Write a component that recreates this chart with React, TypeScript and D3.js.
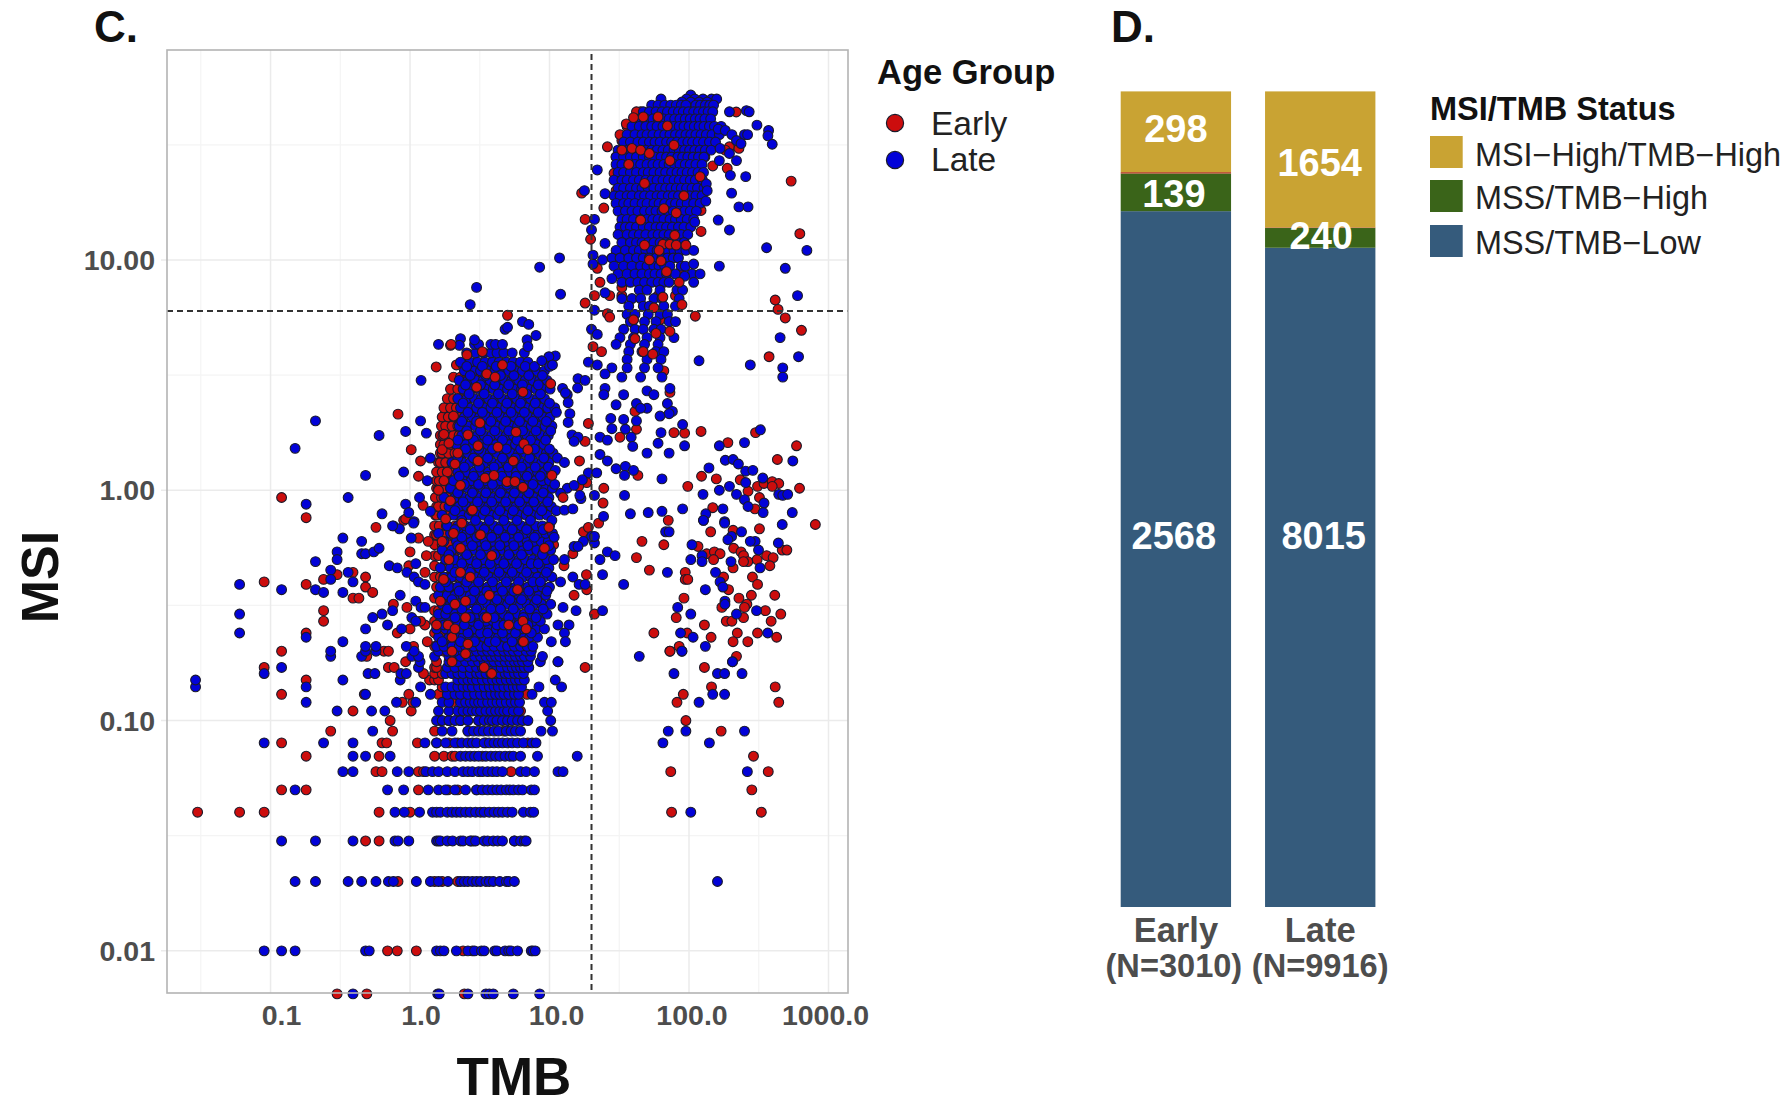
import React from "react";
import * as d3 from "d3";

// ---------- Panel C data: [msi, ...tmb values] rows and [tmb, msi] pairs ----------
const xTicks = [0.1, 1, 10, 100, 1000];
const xTickLabels = ["0.1", "1.0", "10.0", "100.0", "1000.0"];
const yTicks = [10, 1, 0.1, 0.01];
const yTickLabels = ["10.00", "1.00", "0.10", "0.01"];
const xCut = 20;
const yCut = 6;

const earlyLowRows: number[][] = [
  [0.0065, 0.3, 0.49, 2.45],
  [0.01, 0.69, 0.81, 1.11, 2.4, 2.8],
  [0.02, 0.82, 1.5, 1.7, 2.2],
  [0.03, 0.48, 0.6, 2.85, 5.6, 2.75],
  [0.04, 0.03, 0.06, 0.09, 0.6, 1.0, 75, 330],
  [0.05, 0.12, 0.18, 1.15, 1.87, 2.2, 3.0, 282],
  [0.06, 0.57, 0.63, 1.15, 1.25, 5.3, 74, 370],
  [0.07, 0.18, 0.6, 1.5, 1.75, 2.0, 2.1, 3.3, 290],
  [0.08, 0.12, 0.63, 0.68, 1.13, 1.55, 1.9, 2.2, 3.5, 7.0],
  [0.09, 0.27, 0.75, 1.5, 2.6, 4.7, 170],
  [0.1, 0.72, 95, 1.65, 1.9, 2.3, 3.1],
  [0.11, 0.39, 1.02, 6.2],
  [0.12, 0.88, 1.05, 2.0, 3.0, 82, 440],
  [0.13, 0.12, 0.47, 0.98, 1.6, 6.9, 91],
  [0.14, 1.7, 145, 415],
  [0.15, 0.18, 1.38, 1.5, 1.6],
  [0.16, 1.25, 1.5, 1.7, 3.7],
  [0.17, 0.09, 0.7, 0.77, 1.5, 1.55, 2.0, 2.35, 3.3, 3.6, 18, 129],
  [0.18, 0.93, 1.55, 2.1, 2.5],
  [0.19, 0.49, 219],
  [0.2, 0.12, 0.65, 0.7, 2.1, 1.75, 73],
];

const lateLowRows: number[][] = [
  [0.0065, 0.39, 1.58, 1.62, 2.6, 3.5, 3.7, 3.95, 5.5, 8.5],
  [0.01, 0.09, 0.12, 0.15, 0.48, 0.51, 1.55, 1.65, 1.75, 2.15, 2.6, 2.9, 3.25, 3.4, 4.05, 4.2, 4.8, 5.1, 5.3, 5.9, 7.4, 7.6, 7.9],
  [0.02, 0.15, 0.21, 0.36, 0.45, 0.57, 0.7, 0.76, 1.11, 1.4, 1.6, 1.87, 2.3, 2.45, 2.6, 2.8, 3.0, 3.2, 3.5, 3.7, 3.95, 4.4, 4.9, 5.1, 5.6, 160],
  [0.03, 0.12, 0.21, 0.39, 0.78, 0.82, 0.98, 1.55, 1.6, 1.65, 1.85, 2.02, 2.3, 2.4, 2.7, 2.95, 3.4, 3.6, 3.95, 4.25, 4.6, 5.6, 6.2, 6.6, 6.8],
  [0.04, 0.78, 0.91, 1.17, 1.45, 1.55, 1.65, 1.85, 2.0, 2.15, 2.3, 2.5, 2.7, 2.95, 3.2, 3.4, 3.7, 4.0, 4.3, 4.6, 5.0, 5.4, 6.5, 7.3, 7.7, 103],
  [0.05, 0.15, 0.69, 0.9, 1.35, 1.6, 1.8, 2.1, 2.5, 3.0, 3.3, 3.6, 3.9, 4.2, 4.5, 4.9, 5.2, 5.5, 6.0, 6.4, 7.4, 7.8],
  [0.06, 0.33, 0.39, 0.81, 0.98, 1.3, 1.45, 1.6, 1.85, 2.1, 2.4, 2.6, 2.8, 3.1, 3.3, 3.6, 3.9, 4.2, 4.6, 6.2, 6.8, 7.8, 11.5, 12.5, 262],
  [0.07, 0.39, 0.48, 0.72, 2.3, 2.5, 2.7, 2.9, 3.1, 3.5, 3.8, 4.1, 4.4, 4.8, 5.2, 5.5, 6.2, 8.2, 15.8],
  [0.08, 0.09, 0.24, 0.39, 1.28, 1.55, 1.8, 2.1, 2.35, 2.6, 2.8, 3.0, 3.4, 3.7, 4.0, 4.3, 4.6, 5.0, 5.4, 5.9, 6.5, 7.5, 8.0, 65, 140],
  [0.09, 0.54, 1.7, 2.0, 2.6, 2.85, 3.1, 3.35, 3.65, 4.0, 4.3, 4.9, 5.3, 5.7, 6.2, 8.7, 10.5, 71, 95, 250],
  [0.1, 1.55, 1.7, 1.9, 2.1, 2.3, 2.6, 3.1, 3.4, 3.7, 3.9, 4.2, 4.6, 5.0, 5.4, 5.9, 6.4, 7.0, 10.2],
  [0.11, 0.3, 0.53, 0.66, 1.6, 1.9, 2.2, 2.4, 2.6, 2.8, 3.0, 3.2, 3.5, 3.8, 4.1, 4.4, 4.7, 5.0, 5.5, 6.0, 9.7],
  [0.12, 0.18, 0.8, 1.1, 1.7, 1.9, 2.3, 2.5, 2.7, 2.9, 3.1, 3.3, 3.6, 3.9, 4.2, 4.5, 4.9, 5.3, 5.7, 6.1, 9.2, 10.3, 118],
  [0.13, 0.48, 1.4, 1.85, 2.1, 2.3, 2.6, 2.9, 3.2, 3.5, 3.8, 4.1, 4.4, 4.7, 5.1, 5.6, 6.0, 7.5, 148, 180],
  [0.14, 0.029, 0.18, 1.19, 1.8, 2.0, 2.2, 2.4, 2.6, 2.8, 3.1, 3.4, 3.7, 4.0, 4.3, 4.7, 5.1, 5.5, 5.9, 6.3, 8.4, 12.2],
  [0.15, 0.029, 0.33, 0.85, 2.2, 2.4, 2.6, 2.8, 3.0, 3.3, 3.6, 3.9, 4.2, 4.5, 4.9, 5.3, 5.7, 6.1, 6.6, 11],
  [0.16, 0.09, 0.5, 0.56, 0.86, 0.94, 1.8, 2.0, 2.2, 2.4, 2.7, 3.0, 3.2, 3.5, 3.8, 4.1, 4.4, 4.8, 5.1, 5.6, 6.0, 6.5, 78, 160, 180, 240],
  [0.17, 0.12, 1.15, 1.85, 2.1, 2.4, 2.7, 3.0, 3.3, 3.6, 3.9, 4.2, 4.5, 5, 5.4, 5.8, 6.2, 6.6, 7.1],
  [0.18, 1.18, 1.9, 2.2, 2.5, 2.8, 3.1, 3.4, 3.7, 4.0, 4.4, 4.8, 5.2, 5.6, 6.0, 6.4, 7.0, 8.6, 11.5, 205],
  [0.19, 0.27, 0.45, 1.03, 1.15, 1.5, 1.9, 2.1, 2.3, 2.6, 2.9, 3.2, 3.5, 3.8, 4.1, 4.4, 4.8, 5.2, 5.7, 6.2, 6.6, 7.3, 8.9, 44],
  [0.2, 0.27, 0.48, 0.57, 1.07, 1.6, 1.85, 2.1, 2.4, 2.7, 3.0, 3.3, 3.6, 3.9, 4.3, 4.7, 5.1, 5.5, 6.0, 6.8, 7.4, 89],
];

const lateMainRows: number[][] = [
  [0.21, 1.55, 1.75, 2.0, 2.25, 2.5, 2.85, 3.2, 3.55, 4.0, 4.5, 5.0, 5.6, 6.2, 6.9, 7.6],
  [0.23, 1.6, 1.9, 2.15, 2.4, 2.7, 3.05, 3.4, 3.85, 4.3, 4.8, 5.35, 5.9, 6.6, 7.2, 8.2],
  [0.25, 1.55, 1.8, 2.05, 2.35, 2.6, 2.95, 3.3, 3.7, 4.15, 4.6, 5.2, 5.8, 6.4, 7.1, 8.0, 9.2],
  [0.27, 1.65, 1.95, 2.2, 2.5, 2.8, 3.15, 3.5, 3.95, 4.4, 4.9, 5.5, 6.1, 6.8, 7.6, 8.6],
  [0.29, 1.6, 1.8, 2.1, 2.35, 2.65, 3.0, 3.35, 3.75, 4.2, 4.7, 5.3, 5.9, 6.6, 7.3, 8.2, 9.6],
  [0.32, 1.7, 1.95, 2.25, 2.55, 2.9, 3.25, 3.6, 4.05, 4.5, 5.0, 5.6, 6.2, 6.9, 7.8, 8.8, 10.2],
  [0.35, 1.6, 1.85, 2.1, 2.4, 2.7, 3.05, 3.4, 3.85, 4.3, 4.85, 5.4, 6.05, 6.7, 7.5, 8.4, 9.4],
  [0.38, 1.65, 1.9, 2.2, 2.5, 2.85, 3.2, 3.6, 4.0, 4.5, 5.05, 5.7, 6.3, 7.0, 7.9, 8.9, 10.0],
  [0.42, 1.75, 2.0, 2.3, 2.6, 2.95, 3.3, 3.7, 4.2, 4.7, 5.2, 5.85, 6.5, 7.3, 8.2, 9.2, 10.4],
  [0.46, 1.65, 1.95, 2.2, 2.5, 2.8, 3.15, 3.5, 3.95, 4.45, 5.0, 5.6, 6.2, 7.0, 7.8, 8.8, 9.9],
  [0.5, 1.8, 2.1, 2.4, 2.7, 3.05, 3.4, 3.85, 4.3, 4.85, 5.4, 6.05, 6.7, 7.6, 8.5, 9.5, 10.7],
  [0.55, 1.7, 2.0, 2.3, 2.6, 2.9, 3.25, 3.65, 4.1, 4.6, 5.15, 5.8, 6.5, 7.2, 8.1, 9.1, 10.2],
  [0.6, 1.75, 2.15, 2.45, 2.75, 3.1, 3.45, 3.9, 4.4, 4.9, 5.5, 6.2, 6.9, 7.7, 8.7, 9.8],
  [0.65, 1.6, 1.95, 2.25, 2.55, 2.9, 3.3, 3.7, 4.15, 4.65, 5.25, 5.9, 6.6, 7.4, 8.3, 9.4, 10.5],
  [0.7, 1.85, 2.2, 2.5, 2.8, 3.15, 3.55, 4.0, 4.5, 5.0, 5.6, 6.3, 7.1, 8.0, 8.9, 10.0],
  [0.78, 1.7, 2.05, 2.35, 2.65, 3.0, 3.35, 3.8, 4.25, 4.8, 5.4, 6.05, 6.8, 7.6, 8.5, 9.6],
  [0.85, 1.9, 2.25, 2.55, 2.9, 3.25, 3.65, 4.1, 4.6, 5.15, 5.75, 6.5, 7.3, 8.1, 9.2, 10.3],
  [0.93, 1.75, 2.1, 2.4, 2.7, 3.05, 3.45, 3.9, 4.35, 4.9, 5.5, 6.15, 6.9, 7.8, 8.8, 9.9],
  [1.02, 1.95, 2.3, 2.6, 2.95, 3.3, 3.7, 4.2, 4.7, 5.25, 5.9, 6.6, 7.4, 8.3, 9.4, 10.5],
  [1.1, 2.05, 2.4, 2.75, 3.1, 3.5, 3.95, 4.45, 5.0, 5.6, 6.3, 7.1, 7.9, 8.9, 10.0],
  [1.2, 2.2, 2.55, 2.9, 3.25, 3.65, 4.1, 4.6, 5.15, 5.8, 6.5, 7.3, 8.2, 9.2, 10.3],
  [1.32, 2.0, 2.4, 2.7, 3.05, 3.45, 3.9, 4.4, 4.9, 5.5, 6.2, 7.0, 7.8, 8.8, 9.9],
  [1.45, 2.3, 2.6, 2.95, 3.35, 3.75, 4.2, 4.75, 5.3, 6.0, 6.7, 7.5, 8.4, 9.5, 10.6],
  [1.58, 2.15, 2.5, 2.85, 3.2, 3.6, 4.05, 4.55, 5.1, 5.7, 6.4, 7.2, 8.1, 9.1],
  [1.73, 2.35, 2.7, 3.05, 3.4, 3.85, 4.35, 4.9, 5.5, 6.15, 6.9, 7.7, 8.7, 9.8],
  [1.9, 2.25, 2.6, 2.95, 3.3, 3.7, 4.15, 4.7, 5.25, 5.9, 6.6, 7.4, 8.3, 9.3, 10.4],
  [2.08, 2.45, 2.8, 3.15, 3.55, 4.0, 4.5, 5.05, 5.65, 6.35, 7.1, 8.0, 9.0, 10.1],
  [2.28, 2.3, 2.65, 3.0, 3.4, 3.8, 4.3, 4.85, 5.4, 6.1, 6.85, 7.7, 8.6, 9.7, 10.9],
  [2.5, 2.2, 2.55, 2.9, 3.25, 3.65, 4.1, 4.6, 5.2, 5.8, 6.5, 7.3, 8.2, 9.2],
  [2.75, 2.4, 2.75, 3.1, 3.5, 3.95, 4.45, 5.0, 5.6, 6.3, 7.1, 8.0, 9.0, 10.1],
  [3.0, 2.25, 2.6, 2.95, 3.35, 3.75, 4.25, 4.75, 5.35, 6.0, 6.7, 7.6, 8.5, 9.6],
  [3.3, 2.45, 2.85, 3.2, 3.6, 4.05, 4.55, 5.1, 5.7, 6.4, 7.3, 8.1, 9.2],
  [3.6, 2.3, 2.7, 3.05, 3.45, 3.9, 4.35, 4.9, 5.5, 6.2, 7.0],
  [3.95, 2.55, 2.95, 3.35, 3.8, 4.2, 4.7, 5.4, 6.6],
  [4.3, 2.9, 3.1, 3.8, 4.1, 4.6],
];

const lateMainFillRows: number[][] = [
  [0.22, 1.7, 2.3, 2.9, 3.7, 4.1, 5.4, 6.4],
  [0.24, 2.0, 2.6, 3.2, 3.6, 4.6, 5.7, 7.4],
  [0.26, 1.75, 2.45, 3.1, 4.2, 4.7, 6.0, 7.0],
  [0.28, 2.1, 2.7, 3.4, 4.0, 5.1, 6.5, 8.0],
  [0.305, 1.85, 2.35, 3.0, 3.8, 4.45, 5.5, 7.2, 9.0],
  [0.335, 2.0, 2.75, 3.3, 4.2, 5.2, 6.3, 8.1],
  [0.365, 2.25, 2.9, 3.55, 4.6, 5.55, 7.1, 9.6],
  [0.4, 1.8, 2.55, 3.1, 3.9, 4.9, 6.0, 7.6, 8.6],
  [0.44, 2.1, 2.7, 3.4, 4.35, 5.4, 6.85, 9.5],
  [0.48, 2.35, 3.0, 3.75, 4.7, 5.8, 7.4, 8.3],
  [0.525, 1.9, 2.55, 3.2, 4.05, 5.1, 6.3, 8.9],
  [0.575, 2.2, 2.8, 3.5, 4.4, 5.55, 7.0, 9.9],
  [0.625, 2.35, 3.0, 3.85, 4.8, 6.0, 7.8, 10.8],
  [0.675, 2.1, 2.7, 3.4, 4.3, 5.4, 6.85, 9.0],
  [0.74, 2.35, 2.95, 3.7, 4.7, 5.85, 7.3, 10.4],
  [0.815, 2.1, 2.75, 3.45, 4.4, 5.5, 7.0, 8.8, 11.2],
  [0.89, 2.4, 3.05, 3.85, 4.85, 6.1, 7.7, 9.7],
  [0.975, 2.2, 2.8, 3.5, 4.45, 5.6, 7.1, 9.0],
  [1.06, 2.45, 3.1, 3.9, 4.95, 6.2, 7.6, 10.9],
  [1.15, 2.25, 2.85, 3.6, 4.55, 5.75, 6.9, 8.6],
  [1.26, 2.45, 3.15, 4.0, 5.05, 6.3, 7.9, 9.8],
  [1.38, 2.2, 2.85, 3.6, 4.6, 5.7, 7.2, 9.1, 11.4],
  [1.51, 2.5, 3.1, 3.9, 4.9, 6.2, 7.8, 10.0],
  [1.65, 2.2, 2.85, 3.6, 4.6, 5.85, 7.3, 9.4],
  [1.81, 2.55, 3.2, 4.05, 5.1, 6.4, 8.0, 10.2],
  [1.99, 2.35, 3.0, 3.8, 4.85, 6.1, 7.6, 9.5],
  [2.18, 2.6, 3.3, 4.2, 5.3, 6.6, 8.3, 11.2],
  [2.39, 2.4, 3.1, 3.9, 4.95, 6.2, 7.9, 10.0],
  [2.62, 2.65, 3.4, 4.3, 5.4, 6.85, 8.6],
  [2.87, 2.5, 3.2, 4.05, 5.1, 6.4, 8.3],
  [3.15, 2.7, 3.5, 4.45, 5.55, 7.1, 8.9],
  [3.45, 2.55, 3.3, 4.15, 5.3, 6.7, 7.8, 10],
];

const lateHighRows: number[][] = [
  [52, 103],
  [50, 63, 96, 110, 126, 145, 158],
  [48.5, 89, 103, 118, 135],
  [47, 54, 60, 67, 74, 81, 88, 95, 112, 121, 131, 141, 150],
  [44, 47, 52, 58, 64, 70, 77, 84, 91, 99, 108, 117, 127, 137, 148],
  [41, 44, 49, 55, 60, 66, 72, 79, 86, 94, 102, 111, 120, 130, 143],
  [38, 39, 44, 49, 54, 59, 65, 71, 78, 85, 92, 100, 109, 118, 128, 140, 152, 170],
  [35, 36, 41, 46, 50, 55, 61, 67, 73, 80, 87, 95, 103, 112, 122, 133, 146, 165],
  [32.5, 34, 38, 43, 47, 52, 57, 62, 69, 75, 82, 90, 98, 106, 116, 127, 140, 155],
  [30, 31, 36, 40, 45, 49, 54, 59, 65, 71, 78, 85, 93, 101, 110, 120, 131, 144],
  [28, 30, 34, 38, 42, 47, 52, 57, 63, 69, 75, 83, 90, 98, 107, 117, 128],
  [26, 30, 33, 37, 41, 45, 50, 55, 60, 66, 72, 79, 86, 94, 102, 112, 124],
  [24, 31, 34, 38, 42, 47, 51, 56, 62, 68, 75, 82, 89, 97, 106, 116, 127],
  [22.2, 29, 33, 36, 40, 44, 49, 54, 59, 65, 71, 78, 85, 93, 102, 111, 125],
  [20.5, 31, 34, 38, 42, 46, 51, 56, 62, 68, 74, 81, 88, 96, 105, 115, 128],
  [19, 29, 32, 36, 39, 44, 48, 53, 59, 64, 71, 77, 84, 92, 101, 112, 124],
  [17.6, 30, 34, 37, 41, 46, 50, 56, 61, 67, 74, 80, 88, 97, 108, 120],
  [16.3, 31, 35, 39, 43, 48, 53, 58, 64, 70, 77, 85, 93, 102, 113],
  [15, 33, 36, 40, 45, 50, 55, 60, 66, 73, 80, 88, 97, 108],
  [13.9, 32, 35, 38, 42, 47, 52, 58, 63, 69, 76, 84, 92, 103],
  [12.9, 31, 36, 40, 44, 49, 55, 60, 66, 72, 80, 88, 98],
  [11.9, 33, 38, 42, 46, 51, 56, 62, 68, 74, 83, 92],
  [11, 30, 35, 40, 44, 49, 54, 59, 65, 71, 78, 86, 95],
  [10.2, 28, 32, 37, 42, 47, 52, 58, 64, 70, 77, 84],
  [9.4, 29, 34, 39, 45, 50, 56, 61, 67, 73, 88, 94],
  [8.7, 31, 36, 41, 46, 52, 57, 63, 69, 80],
  [8, 33, 38, 43, 48, 54, 60, 66, 72],
  [7.4, 44, 50, 62, 82, 90],
  [6.8, 33, 39, 45, 56, 64, 85],
  [6.3, 37, 47, 52, 66, 80],
  [5.8, 36, 41, 51, 62, 70],
  [5.4, 38, 48, 58, 72, 80],
  [5, 34, 41, 47, 56, 63],
  [4.6, 32, 40, 50, 62, 78],
  [4.3, 30, 38, 48, 60],
  [4, 37, 46, 58, 66],
  [3.7, 36, 50, 63],
  [3.4, 28, 36, 48, 60],
  [3.1, 33, 45, 64],
];

const earlyUnderRows: number[][] = [
  [0.21, 1.5, 1.6, 1.8, 2.1],
  [0.24, 1.5, 1.65, 1.9],
  [0.27, 1.5, 1.7, 1.95, 2.3],
  [0.3, 1.5, 1.6, 1.85, 2.15],
  [0.34, 1.5, 1.75, 2.0],
  [0.38, 1.55, 1.7, 1.95, 2.25],
  [0.42, 1.5, 1.65, 1.85, 2.1],
  [0.47, 1.5, 1.75, 2.0, 2.35],
  [0.52, 1.5, 1.6, 1.8, 2.05],
  [0.58, 1.5, 1.7, 1.9, 2.2],
  [0.64, 1.5, 1.55, 1.75, 2.0, 2.3],
  [0.7, 1.5, 1.62, 1.82, 2.1],
  [0.78, 1.52, 1.55, 1.7, 1.9, 2.2],
  [0.85, 1.55, 1.6, 1.78, 2.0, 2.3],
  [0.93, 1.52, 1.68, 1.85, 2.1],
  [1.02, 1.55, 1.6, 1.75, 1.95, 2.2],
  [1.1, 1.55, 1.62, 1.78, 2.0],
  [1.2, 1.55, 1.7, 1.85, 2.1],
  [1.32, 1.6, 1.65, 1.8, 2.0, 2.3],
  [1.45, 1.65, 1.7, 1.88, 2.1, 2.4],
  [1.58, 1.65, 1.75, 1.95, 2.15, 2.4],
  [1.73, 1.65, 1.72, 1.85, 2.05, 2.25],
  [1.9, 1.68, 1.8, 2.0, 2.2, 2.5],
  [2.08, 1.7, 1.88, 2.05, 2.3],
  [2.28, 1.75, 1.95, 2.15, 2.4],
  [2.5, 1.85, 2.05, 2.3, 2.6],
  [2.75, 1.95, 2.2, 2.45],
  [3.1, 2.05, 2.3, 2.6, 2.95],
  [3.5, 2.15, 2.4, 2.7, 3.2],
];

const earlyHighUnderRows: number[][] = [
  [44, 45, 60, 85],
  [38, 36, 42, 75, 100],
  [33, 33, 44, 66, 118],
  [28, 30, 38, 96, 130],
  [24, 31, 45, 112],
  [20, 30, 52, 90, 122],
  [16, 33, 70, 105],
  [12, 35, 75, 92],
  [9, 40, 88],
  [7, 33, 60, 80],
  [5.5, 40, 62],
];

const earlyTopPoints: number[][] = [
  [1.97, 4.3], [2.56, 3.87], [3.3, 4.0], [4.6, 3.5], [3.55, 3.2], [4.07, 3.1], [3.0, 2.8], [6.45, 2.67], [10.2, 2.9],
  [3.17, 1.96], [5.75, 1.79], [2.6, 1.74], [3.07, 1.56], [6.55, 1.59], [7, 1.5], [5.5, 1.34], [3.07, 1.34], [3.45, 1.13],
  [4, 1.16], [4.96, 1.09], [5.65, 1.09], [6.45, 1.03], [2.8, 0.82], [12.5, 0.93], [9.9, 0.69], [3.17, 0.64], [10.4, 1.16], [4.27, 1.54],
  [3.2, 0.64], [2.3, 0.56], [3.85, 0.52], [9.2, 0.56], [2.7, 0.42], [1.74, 0.41], [5.9, 0.37], [3.7, 0.35], [2.5, 0.33], [2.1, 0.32],
  [3.55, 0.28], [6.45, 0.27], [6.8, 0.25], [5.1, 0.26], [2.5, 0.28], [1.87, 0.26], [1.55, 0.26], [2.0, 0.23], [2.6, 0.215], [6.5, 0.22],
  [2.0, 0.2], [2.5, 0.195], [3.4, 0.17], [3.85, 0.16], [2, 0.18],
  [1.7, 1.5], [1.85, 1.2], [1.6, 1.0], [1.95, 0.9], [2.2, 1.45], [1.8, 0.75], [2.05, 0.65], [1.75, 1.75], [2.05, 2.1],
  [1.9, 1.6], [2.1, 1.3], [1.75, 1.1], [2.3, 1.05], [1.7, 0.6], [1.9, 0.5], [2.3, 0.44], [1.65, 0.33], [2.1, 0.25], [2.35, 0.72],
  [70, 38.2], [60, 41.8], [47, 41.8], [40, 41.5], [33, 30], [39, 30.5], [45, 30], [52, 29], [73, 27], [37, 26], [78, 31.5], [48, 21.5],
  [92, 19], [66, 16.7], [81, 16], [45, 14.9], [79, 12.8], [65, 11.7], [73, 11.7], [81, 11.6], [95, 11.6], [48, 11.6], [61, 11], [52, 10],
  [63, 9.9], [69, 8.9], [85, 8], [56, 6.2], [40, 5.5], [65, 6.9], [89, 6.4], [73, 4.9], [58, 4.8], [41, 4.55], [47, 4], [55, 3.9], [120, 23],
];

const earlySparse: number[][] = [
  [0.09, 0.4], [0.18, 0.39], [0.24, 0.41], [0.24, 0.3], [0.24, 0.27], [0.18, 0.24], [0.3, 0.43], [0.39, 0.44], [0.48, 0.42], [0.48, 0.38],
  [0.54, 0.36], [0.39, 0.34], [0.43, 0.34], [0.57, 0.69], [0.76, 0.32], [0.95, 0.31], [0.81, 0.24], [1.0, 0.25], [1.06, 0.21], [1.33, 0.22],
  [1.28, 0.26], [1.19, 0.27], [1.31, 0.52], [1.0, 0.54], [0.98, 0.47], [1.28, 0.44], [1.35, 0.6], [1.15, 0.62], [0.9, 0.74],
  [71, 0.74], [46, 0.6], [66, 0.58], [42, 0.51], [52, 0.45], [94, 0.44], [94, 0.41], [98, 0.41], [92, 0.34], [81, 0.28], [56, 0.24], [97, 0.24],
  [73, 0.2], [85, 0.21], [129, 0.26], [144, 0.23], [143, 0.66], [207, 0.67], [320, 0.68], [805, 0.71], [116, 0.57], [134, 0.53], [152, 0.54],
  [167, 0.53], [150, 0.5], [209, 0.56], [236, 0.54], [246, 0.52], [264, 0.49], [246, 0.49], [207, 0.46], [308, 0.5], [360, 0.52], [401, 0.51],
  [380, 0.47], [466, 0.55], [503, 0.55], [177, 0.42], [285, 0.42], [310, 0.39], [192, 0.37], [228, 0.34], [280, 0.35], [412, 0.35], [260, 0.32],
  [250, 0.31], [172, 0.31], [353, 0.3], [455, 0.29], [246, 0.28], [185, 0.27], [203, 0.27], [388, 0.27], [222, 0.24], [310, 0.24], [425, 0.23],
  [207, 0.22], [264, 0.22],
  [18.4, 0.43], [18.5, 0.37], [15, 0.35], [21, 0.29], [12.7, 0.47], [14.7, 0.53], [17.5, 0.66], [19, 0.69], [22.5, 0.72], [10.7, 0.58],
  [540, 22], [623, 13], [415, 6.7], [435, 6.1], [490, 5.6], [640, 4.95], [375, 3.8], [590, 1.56], [430, 1.36], [300, 1.78], [190, 1.61], [122, 1.8],
  [93, 1.77], [78, 1.78], [123, 1.15], [157, 1.12], [98, 1.04], [233, 1.11], [310, 1.04], [345, 1.07], [395, 1.09], [440, 1.07], [395, 1.04],
  [265, 0.99], [620, 1.02], [320, 0.93], [148, 0.84], [297, 0.83],
  [17, 19.5], [18, 15], [19.7, 12.3], [24.5, 16.8], [22, 9.2], [23, 8], [21, 7], [18, 6.5], [33, 7.6], [27, 7], [5, 5.75], [26, 5.85], [27, 5.65],
  [20.5, 4.2], [23.6, 4], [111, 5.7], [122, 13.3], [122, 16.4], [188, 25], [148, 25.6], [195, 31], [182, 30], [228, 30.5], [218, 43.9], [42, 44],
  [35.5, 39], [32, 35], [26, 31], [29, 23.8], [66, 3.3], [73, 2.66], [41, 2.2], [19, 1.95], [32, 1.7], [42, 1.84], [18, 1.63], [16.4, 1.34],
  [24.5, 1.02], [24.2, 0.88], [18.5, 1.08], [16.2, 1.04], [43, 1.16],
  [0.82, 2.14], [1.54, 3.43], [1.95, 4.26], [1.02, 1.5], [1.19, 1.34], [1.15, 1.15], [0.12, 0.93], [0.18, 0.76], [1.24, 0.86], [0.93, 0.75],
];

const lateSparse: number[][] = [
  [0.06, 0.39], [0.06, 0.29], [0.06, 0.24], [0.12, 0.37], [0.18, 0.23], [0.21, 0.49], [0.21, 0.37], [0.24, 0.36], [0.27, 0.45], [0.27, 0.41],
  [0.3, 0.54], [0.3, 0.5], [0.33, 0.62], [0.33, 0.36], [0.33, 0.22], [0.36, 0.44], [0.39, 0.4], [0.45, 0.6], [0.45, 0.53], [0.48, 0.53],
  [0.55, 0.54], [0.6, 0.56], [0.48, 0.25], [0.48, 0.21], [0.57, 0.21], [0.54, 0.28], [0.63, 0.29], [0.69, 0.26], [0.75, 0.3], [0.71, 0.47],
  [0.81, 0.46], [0.85, 0.35], [0.76, 0.7], [0.84, 0.68], [1.02, 0.62], [1.07, 0.73], [0.87, 0.25], [0.95, 0.44], [1.07, 0.42], [1.15, 0.4],
  [1.28, 0.39], [1.1, 0.48], [0.94, 0.21], [1.1, 0.33], [1.2, 0.31], [1.28, 0.31], [1.03, 0.28], [1.1, 0.27],
  [68, 0.66], [72, 0.66], [127, 0.74], [180, 0.73], [466, 0.71], [202, 0.63], [190, 0.61], [238, 0.66], [298, 0.6], [275, 0.6], [437, 0.59],
  [105, 0.58], [103, 0.5], [124, 0.52], [124, 0.49], [315, 0.55], [200, 0.49], [323, 0.46], [70, 0.44], [34, 0.39], [155, 0.44], [167, 0.4],
  [131, 0.37], [175, 0.38], [181, 0.33], [181, 0.32], [83, 0.31], [103, 0.29], [219, 0.29], [305, 0.3], [87, 0.24], [107, 0.23], [367, 0.24],
  [131, 0.21], [89, 0.2], [205, 0.18],
  [26, 0.54], [29.5, 0.52], [23, 0.5], [24, 0.43], [24, 0.3], [21, 0.59], [20, 0.63], [21, 0.63], [17.5, 0.6], [15, 0.57], [16, 0.57], [12.8, 0.5],
  [14.7, 0.42], [16.3, 0.39], [18, 0.39], [12, 0.4], [15.5, 0.3], [12.5, 0.31], [11.5, 0.26], [13.8, 0.26], [12.8, 0.24], [13, 0.22], [10.3, 0.22], [11.5, 0.18],
  [360, 11.3], [700, 11], [490, 9.2], [165, 9.4], [600, 7], [450, 4.6], [610, 3.8], [275, 3.5], [470, 3.4], [470, 3.1], [118, 3.65], [325, 1.83],
  [250, 1.61], [165, 1.56], [555, 1.34], [182, 1.35], [207, 1.36], [226, 1.3], [139, 1.25], [255, 1.21], [287, 1.22], [338, 1.13], [195, 1.04],
  [255, 1.08], [165, 1], [126, 0.96], [219, 0.96], [250, 0.91], [345, 0.88], [265, 0.85], [440, 0.96], [470, 0.95], [510, 0.96], [175, 0.83],
  [340, 0.8], [550, 0.8], [132, 0.79], [127, 0.74], [180, 0.72], [90, 0.83], [64, 0.81], [51, 0.8], [38, 0.79], [34.5, 0.95], [64, 1.12],
  [11.8, 10.2], [8.5, 9.3], [3, 7.6], [2.7, 6.4], [12, 7.1], [22, 24.6], [17.8, 20], [25, 19.4], [21, 15], [20, 13.5], [25, 11.8], [20.5, 10.5],
  [20.5, 9.6], [24, 10], [28, 8.3], [25, 7.2], [21, 6.05], [20, 5], [22, 4.75], [19, 3.6], [22, 3.5], [25, 3.2], [25, 2.77], [24.5, 2.6], [34, 2.6],
  [50, 2.7], [56, 2.6], [73, 2.77], [70, 2.38], [76, 2.2], [72, 2.15], [62, 2.1], [42, 2.38], [50, 2.27], [45, 2.27], [30, 2.35], [27.5, 2.05],
  [34, 2.03], [42, 2], [28, 1.85], [35, 1.84], [38.5, 1.7], [23, 1.7], [26, 1.65], [39.5, 1.55], [60, 1.6], [63, 1.78], [90, 1.93], [93, 1.56],
  [72, 1.45], [50, 1.45], [23, 1.43], [26, 1.34], [30, 1.24], [35, 1.27], [40, 1.22], [34.5, 1.16], [19, 1.19], [21.8, 1.19], [17.2, 1.11], [21, 0.95],
  [16.8, 0.92], [24.4, 0.77],
  [0.21, 2], [0.15, 1.52], [0.6, 1.73], [0.93, 1.8], [1.19, 2], [1.31, 1.77], [1.2, 3], [1.6, 4.3], [0.48, 1.16], [0.9, 1.2], [1.4, 1.38], [1.33, 1.1],
  [0.36, 0.93], [0.18, 0.87], [0.93, 0.87], [0.63, 0.79], [0.98, 0.8], [1.17, 0.93], [1.4, 0.81], [1.06, 0.72], [0.75, 0.7], [2.9, 4.5], [2.3, 4.55],
  [2.26, 4.26], [4.8, 5], [5, 5.1], [6.4, 5.4], [7.1, 5.25], [8, 4.7], [6.9, 4.5], [7, 4.2], [11, 3.83], [9.9, 3.8], [8.8, 3.65], [10.5, 3.5], [16, 3.05],
  [18, 3], [15.9, 2.78], [12.4, 2.77], [13.4, 2.6], [13, 2.65], [13.6, 2.4], [14, 2.15], [13.6, 1.97], [14.5, 1.74], [16, 1.7], [15, 1.63], [12.8, 1.32],
  [11, 1.22], [13.4, 1.02], [15, 1.05], [12, 0.97], [16.5, 0.95], [12.8, 0.82], [14.7, 0.83],
  [195, 44], [258, 44.5], [270, 44], [307, 38.5], [372, 36.5], [368, 34.6], [395, 31.8], [250, 35], [263, 35], [162, 37], [182, 36.5], [203, 35],
  [219, 33], [236, 32], [167, 30.5], [195, 29], [219, 27], [165, 27], [198, 23.3], [255, 23], [133, 21.4], [135, 20], [202, 19.5], [228, 17], [265, 17],
  [162, 14.9], [195, 13.5], [132, 18], [110, 14.6], [108, 11], [108, 9.6], [105, 8.7], [120, 8.7], [108, 8], [93, 8.5],
];

// ---------- Panel D data ----------
const groupNames = ["Early", "Late"];
const groupNs = ["(N=3010)", "(N=9916)"];
const statusKeys = ["MSS/TMB−Low", "MSS/TMB−High", "Other", "MSI−High/TMB−High"];
const lowCounts = [2568, 8015];
const otherCounts = [5, 7];
const highCounts = [139, 240];
const bothCounts = [298, 1654];
const legendKeys = ["MSI−High/TMB−High", "MSS/TMB−High", "MSS/TMB−Low"];

const statusColor: Record<string, string> = {
  "MSI−High/TMB−High": "#C9A333",
  Other: "#B5301A",
  "MSS/TMB−High": "#3A6419",
  "MSS/TMB−Low": "#355B7C",
};

const FONT = "'Liberation Sans', Arial, sans-serif";
const RED = "#CC0D0D";
const BLUE = "#0202D8";
const GREY = "#4D4D4D";

const expand = (rows: number[][]) => rows.flatMap(([m, ...ts]) => ts.map((t) => [t, m]));

export default function App() {
  const x = d3.scaleLog().domain([0.0181, 1380]).range([167, 848]);
  const y = d3.scaleLog().domain([0.00656, 81.6]).range([993, 50]);
  const xMinor = xTicks.slice(0, -1).map((t) => t * Math.sqrt(10)).concat([xTicks[0] / Math.sqrt(10)]);
  const yMinor = [Math.sqrt(1000), Math.sqrt(10), Math.sqrt(0.1), Math.sqrt(0.001)];
  const xLabelShift = [11, 11, 7, 3, -3];

  const early = [...expand(earlyLowRows), ...expand(earlyUnderRows), ...expand(earlyHighUnderRows), ...earlySparse];
  const late = [...expand(lateLowRows), ...expand(lateMainRows), ...expand(lateMainFillRows), ...expand(lateHighRows), ...lateSparse];

  const dot = (p: number[], fill: string, i: number) => (
    <circle key={fill + i} cx={x(p[0])} cy={y(p[1])} r={4.9} fill={fill} stroke="#1a1a2a" strokeWidth={1.1} />
  );

  // panel D
  const table = groupNames.map((g, i) => ({
    g,
    "MSS/TMB−Low": lowCounts[i],
    "MSS/TMB−High": highCounts[i],
    Other: otherCounts[i],
    "MSI−High/TMB−High": bothCounts[i],
  }));
  const series = d3.stack<any>().keys(statusKeys).offset(d3.stackOffsetExpand)(table);
  const bx = d3.scaleBand().domain(groupNames).range([1120.7, 1375.4]).paddingInner(0.2355);
  const by = d3.scaleLinear().domain([0, 1]).range([907, 91.4]);
  const barLabelY: Record<string, number[]> = {
    "MSI−High/TMB−High": [128, 162],
    "MSS/TMB−High": [193, 235],
    "MSS/TMB−Low": [535, 535],
  };
  const barLabelDx: Record<string, number[]> = {
    "MSI−High/TMB−High": [0, -0.5],
    "MSS/TMB−High": [-2, 1],
    "MSS/TMB−Low": [-2, 3.5],
  };
  const legendY = [136, 180, 225];
  const legendBase = [166, 209, 254];

  return (
    <svg
      width={1792}
      height={1100}
      style={{ position: "absolute", left: 0, top: 0, background: "#fff" }}
      fontFamily={FONT}
    >
      {/* Panel C */}
      <text x={94} y={42} fontSize={44} fontWeight={700} fill="#111">C.</text>
      <text x={1111} y={42} fontSize={44} fontWeight={700} fill="#111">D.</text>

      <g stroke="#F4F4F4" strokeWidth={1.2}>
        {xMinor.map((t) => <line key={t} x1={x(t)} x2={x(t)} y1={50} y2={993} />)}
        {yMinor.map((t) => <line key={t} x1={167} x2={848} y1={y(t)} y2={y(t)} />)}
      </g>
      <g stroke="#EBEBEB" strokeWidth={1.5}>
        {xTicks.map((t) => <line key={t} x1={x(t)} x2={x(t)} y1={50} y2={993} />)}
        {yTicks.map((t) => <line key={t} x1={161} x2={848} y1={y(t)} y2={y(t)} />)}
      </g>

      <g>{early.map((p, i) => dot(p, RED, i))}</g>
      <g>{late.map((p, i) => dot(p, BLUE, i))}</g>
      <g>{earlyTopPoints.map((p, i) => dot(p, RED, i + 100000))}</g>

      <line x1={x(xCut)} x2={x(xCut)} y1={54} y2={993} stroke="#333" strokeWidth={2} strokeDasharray="6 4" />
      <line x1={167} x2={848} y1={y(yCut)} y2={y(yCut)} stroke="#333" strokeWidth={2} strokeDasharray="6 4" />
      <rect x={167} y={50} width={681} height={943} fill="none" stroke="#B3B3B3" strokeWidth={1.6} />

      {xTicks.map((t, i) => (
        <text key={t} x={x(t) + xLabelShift[i]} y={1025} textAnchor="middle" fontSize={28.5} fontWeight={700} fill={GREY}>
          {xTickLabels[i]}
        </text>
      ))}
      {yTicks.map((t, i) => (
        <text key={t} x={155} y={y(t) + 10} textAnchor="end" fontSize={28.5} fontWeight={700} fill={GREY}>
          {yTickLabels[i]}
        </text>
      ))}
      <text x={514} y={1095} textAnchor="middle" fontSize={53} fontWeight={700} fill="#111">TMB</text>
      <text transform="translate(58,577) rotate(-90)" textAnchor="middle" fontSize={52} fontWeight={700} fill="#111">MSI</text>

      <text x={877} y={84} fontSize={34.5} fontWeight={700} fill="#111">Age Group</text>
      <circle cx={895} cy={123} r={8.6} fill={RED} stroke="#1a1a2a" strokeWidth={1.2} />
      <circle cx={895} cy={160} r={8.6} fill={BLUE} stroke="#1a1a2a" strokeWidth={1.2} />
      <text x={931} y={135} fontSize={33.5} fill="#222">Early</text>
      <text x={931} y={171} fontSize={33.5} fill="#222">Late</text>

      {/* Panel D */}
      {series.map((s) =>
        s.map((d: any, i: number) => (
          <rect
            key={s.key + i}
            x={bx(groupNames[i])}
            width={bx.bandwidth()}
            y={by(d[1])}
            height={by(d[0]) - by(d[1])}
            fill={statusColor[s.key]}
          />
        ))
      )}
      {series
        .filter((s) => barLabelY[s.key])
        .map((s) =>
          s.map((d: any, i: number) => (
            <text
              key={s.key + "t" + i}
              x={(bx(groupNames[i]) as number) + bx.bandwidth() / 2 + barLabelDx[s.key][i]}
              y={barLabelY[s.key][i] + 13.5}
              textAnchor="middle"
              fontSize={38}
              fontWeight={700}
              fill="#fff"
            >
              {d.data[s.key]}
            </text>
          ))
        )}
      {groupNames.map((g, i) => (
        <g key={g} textAnchor="middle" fontWeight={700} fill={GREY}>
          <text x={(bx(g) as number) + bx.bandwidth() / 2} y={942} fontSize={34.5}>{g}</text>
          <text x={(bx(g) as number) + bx.bandwidth() / 2 - (i === 0 ? 2 : 0)} y={977} fontSize={32.6}>{groupNs[i]}</text>
        </g>
      ))}
      <text x={1430} y={120} fontSize={32.5} fontWeight={700} fill="#111">MSI/TMB Status</text>
      {legendKeys.map((k, i) => (
        <g key={k}>
          <rect x={1430} y={legendY[i]} width={32.7} height={32} fill={statusColor[k]} />
          <text x={1475} y={legendBase[i]} fontSize={32.4} fill="#222">{k}</text>
        </g>
      ))}
    </svg>
  );
}
